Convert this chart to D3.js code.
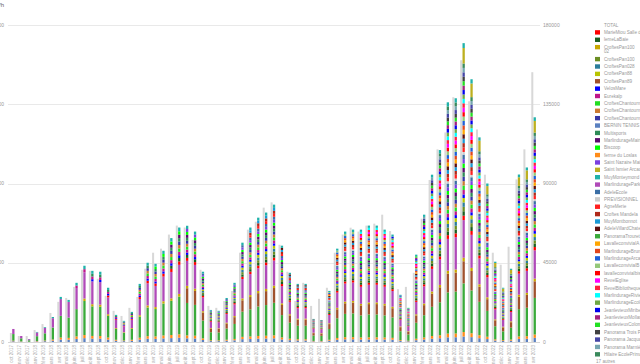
<!DOCTYPE html>
<html>
<head>
<meta charset="utf-8">
<script src="https://cdn.jsdelivr.net/npm/d3@7"></script>
<style>
  body { margin: 0; background: #fff; }
  svg { display: block; font-family: "Liberation Sans", "DejaVu Sans", sans-serif; }
</style>
</head>
<body>
<svg id="viz"></svg>
<script>
var width = 640;
var height = 364;

// months, oct 2017 -> avr 2023
var monthNames = ["janv", "févr", "mars", "avr", "mai", "juin", "juil", "août", "sept", "oct", "nov", "déc"];
var months = [];
for (var k = 9; k < 9 + 67; k++) {
  months.push(monthNames[k % 12] + " " + (2017 + Math.floor(k / 12)));
}

// height of the stacked (sites) bar
var sitesTotal = [7400, 3400, 1700, 5700, 8500, 14200, 25600, 23900, 33600, 43300, 40400, 39900,
  30800, 15400, 12000, 17100, 33000, 45000, 44400, 51800, 59000, 65000, 66000, 62700,
  39900, 18200, 17700, 25000, 33600, 56400, 65000, 70600, 73500, 78000, 54700, 39300,
  33000, 33000, 13100, 12500, 29000, 53000, 62700, 63800, 63800, 66100, 66100, 63800,
  61000, 26800, 19400, 49600, 72300, 95000, 109000, 136100, 138400, 169700, 149200, 116200,
  90000, 45600, 30800, 41600, 95100, 99100, 127600];

// grey TOTAL bar
var totalValues = [5100, 3400, 3400, 6800, 10200, 16500, 22800, 25000, 31300, 41000, 40400, 35900,
  26200, 17700, 14800, 19400, 25600, 41600, 50700, 53000, 61000, 66100, 65000, 58000,
  41000, 20500, 19400, 23300, 29000, 50700, 63800, 68300, 76300, 79300, 55200, 39900,
  23300, 33600, 20500, 24500, 30800, 50700, 61000, 64900, 62700, 66100, 67200, 72300,
  63000, 30000, 31300, 39300, 70000, 92000, 109400, 119000, 139000, 160000, 136700, 120700,
  95000, 50700, 43900, 54100, 92300, 109400, 153200];

// series in legend order
var seriesNames = ["MarieMiou Salle des fêtes", "lemeLaBaie", "CroftesPan100 02", "CroftesPan100", "CroftesPan028",
  "CroftesPan88", "CroftesPan89", "VelosMare", "Eurekalp", "CroftesChantourne A", "CroftesChantourne B",
  "CroftesChantourne C", "BERNIN TENNIS", "Multisports", "MarlindurageMairie", "Biscoop", "ferme du Loslas",
  "Saint Nazaire Mairie", "Saint Ismier Arcades", "MuyMonteymond", "MarlindurageParking", "AdeleEcole",
  "PREVISIONNEL", "AgneMerie", "Croftes Mandela", "MuyMontbonnot", "AdeleVillardChatel", "PanoramaTrouret",
  "LavalleconvivialA", "MarlindurageBrun", "MarlindurageArcade", "LavalleconvivialB", "lavalleconvivialbis",
  "RevelEglise", "RevelBibliotheque", "MarlindurageRiviere", "MarlindurageEcole", "JeanlevieuxMiribel",
  "JeanlevieuxMollard", "JeanlevieuxColombier", "Panorama Trois Pucelles", "Panorama Jacquard",
  "Panorama Marnière", "Hilaire EcolePrimaire"];

var seriesColors = ["#ff0000", "#1b5e20", "#c9a800", "#6b8e23", "#2b7d9b",
  "#b8c400", "#a0522d", "#0000ff", "#c0168a", "#22dd22", "#cc7a30",
  "#3535a5", "#5a80c0", "#2e8b57", "#5b0b6e", "#00ff00", "#ff8c1a",
  "#7a40e0", "#bdb020", "#20b2aa", "#b04ab8", "#3b6ea5",
  "#cccccc", "#ff2020", "#b02a1a", "#1a9ad6", "#5c0e0e", "#3aaa3a",
  "#ffa500", "#e2461c", "#1c5fd8", "#94c87a", "#ff0000",
  "#ff00ff", "#ff1f3d", "#00ffff", "#70a845", "#0000ee",
  "#a3207d", "#22e022", "#404040", "#4545a5",
  "#76a5b0", "#3a8a5c"];

// first month each site shows up, and its rough share of the stack (stripe thickness)
var seriesStart = [12, 20, 9, 24, 24, 24, 22, 10, 8, 14, 14, 14, 0, 10, 20, 18, 0, 22, 57, 2, 0, 24,
  40, 30, 30, 30, 34, 0, 40, 40, 40, 40, 44, 44, 44, 44, 48, 48, 50, 50, 52, 52, 52, 54];
var seriesShare = [2, 2, 1.6, 2, 2, 2, 10, 1.6, 2, 2, 2, 2, 2.5, 2, 2, 2, 2, 2, 7, 2.2, 17, 2,
  1.2, 2, 2, 2, 2, 22, 2, 2, 2, 2, 2, 2, 2, 2, 2, 2, 2, 2, 2, 2, 2, 2];

// bottom-up drawing order of the stack
var stackOrder = ["BERNIN TENNIS", "ferme du Loslas", "PanoramaTrouret", "CroftesPan89", "CroftesPan100 02",
  "MarlindurageParking"];
seriesNames.forEach(function(n) {
  if (stackOrder.indexOf(n) < 0 && n !== "Saint Ismier Arcades" && n !== "MuyMonteymond") stackOrder.push(n);
});
stackOrder.push("Saint Ismier Arcades", "MuyMonteymond");

var yTicks = [0, 45000, 90000, 135000, 180000];

// build table
var table = months.map(function(m, i) {
  var row = { month: m };
  var active = 0;
  seriesNames.forEach(function(n, s) { if (i >= seriesStart[s]) active += seriesShare[s]; });
  seriesNames.forEach(function(n, s) {
    row[n] = i >= seriesStart[s] ? sitesTotal[i] * seriesShare[s] / active : 0;
  });
  return row;
});

var color = d3.scaleOrdinal().domain(seriesNames).range(seriesColors);

var svg = d3.select("#viz")
  .attr("width", width)
  .attr("height", height);

var x = d3.scaleBand()
  .domain(months)
  .range([8.5, 537.8])
  .padding(0);

var y = d3.scaleLinear()
  .domain([0, 180000])
  .range([342, 25]);

// grid
svg.append("g").selectAll("line")
  .data(yTicks).enter()
  .append("line")
  .attr("x1", 8)
  .attr("x2", 540)
  .attr("y1", function(d) { return Math.round(y(d)) + 0.5; })
  .attr("y2", function(d) { return Math.round(y(d)) + 0.5; })
  .attr("stroke", function(d) { return d === 0 ? "#d6d6d6" : "#e9e9e9"; })
  .attr("stroke-width", 1);

// axis labels, right and (clipped) left
svg.append("g").selectAll("text")
  .data(yTicks).enter()
  .append("text")
  .attr("x", 543)
  .attr("y", function(d) { return y(d) + 1.7; })
  .attr("font-size", 5)
  .attr("fill", "#999")
  .text(function(d) { return d; });

svg.append("g").selectAll("text")
  .data(yTicks).enter()
  .append("text")
  .attr("x", 4)
  .attr("y", function(d) { return y(d) + 1.7; })
  .attr("text-anchor", "end")
  .attr("font-size", 5)
  .attr("fill", "#999")
  .text(function(d) { return d; });

svg.append("text")
  .attr("x", 4)
  .attr("y", 7)
  .attr("text-anchor", "end")
  .attr("font-size", 6)
  .attr("fill", "#666")
  .text("Énergie en kWh");

// grey TOTAL bars
svg.append("g").selectAll("rect")
  .data(months).enter()
  .append("rect")
  .attr("x", function(d) { return x(d) + 1.4; })
  .attr("width", 2)
  .attr("y", function(d, i) { return y(totalValues[i]); })
  .attr("height", function(d, i) { return y(0) - y(totalValues[i]); })
  .attr("fill", "#d8d8d8");

// stacked bars
var stacked = d3.stack().keys(stackOrder)(table);

svg.append("g").selectAll("g")
  .data(stacked).enter()
  .append("g")
  .attr("fill", function(d) { return color(d.key); })
  .selectAll("rect")
  .data(function(d) { return d; }).enter()
  .append("rect")
  .attr("x", function(d) { return x(d.data.month) + 3.7; })
  .attr("width", 2.3)
  .attr("y", function(d) { return y(d[1]); })
  .attr("height", function(d) { return Math.max(0, y(d[0]) - y(d[1])); });

// month labels
svg.append("g").selectAll("text")
  .data(months).enter()
  .append("text")
  .attr("transform", function(d) {
    return "translate(" + (x(d) + 4.6) + ",345) rotate(-90)";
  })
  .attr("text-anchor", "end")
  .attr("font-size", 4.6)
  .attr("fill", "#aaa")
  .text(function(d) { return d; });

// legend
var legend = svg.append("g");
var ly = 25;
legend.append("text")
  .attr("x", 604)
  .attr("y", ly + 1.6)
  .attr("font-size", 4.6)
  .attr("fill", "#999")
  .text("TOTAL");
ly += 7.38;

seriesNames.forEach(function(n, s) {
  var item = legend.append("g");
  item.append("rect")
    .attr("x", 595)
    .attr("y", ly - 2.2)
    .attr("width", 5)
    .attr("height", 4.4)
    .attr("fill", seriesColors[s]);
  var t = item.append("text")
    .attr("x", 604)
    .attr("y", ly + 1.6)
    .attr("font-size", 4.6)
    .attr("fill", "#999");
  if (n === "CroftesPan100 02") {
    t.append("tspan").attr("x", 604).text("CroftesPan100");
    t.append("tspan").attr("x", 604).attr("dy", 4.6).text("02");
    ly += 4.6;
  } else {
    t.text(n);
  }
  ly += 7.38;
});

legend.append("text")
  .attr("x", 596)
  .attr("y", ly + 1.6)
  .attr("font-size", 4.6)
  .attr("fill", "#999")
  .text("17 autres");
</script>
</body>
</html>
